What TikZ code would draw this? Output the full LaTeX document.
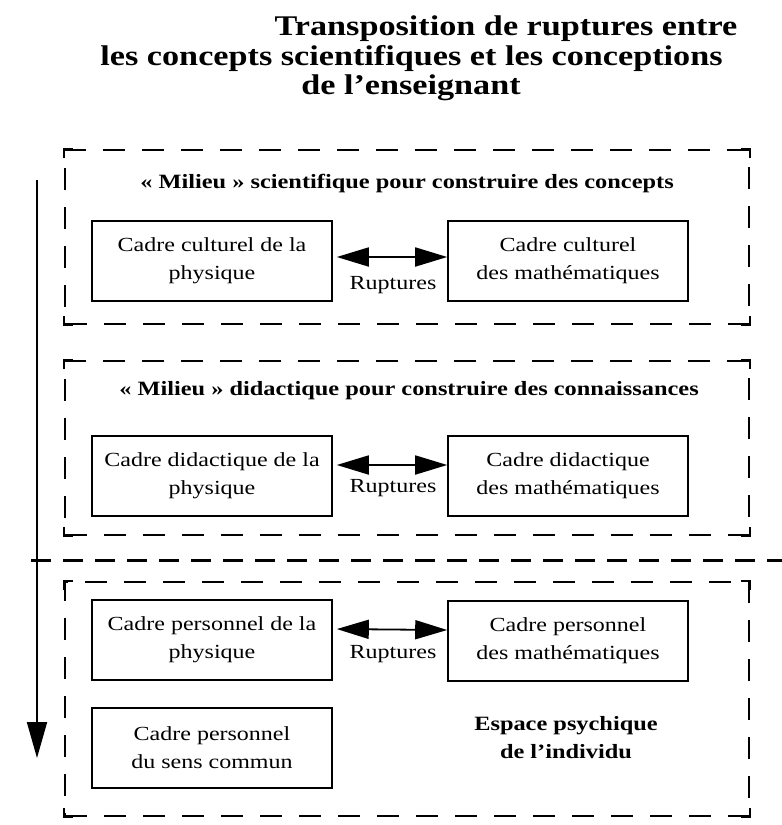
\documentclass[tikz,border=0pt]{standalone}
\usepackage{fontspec}
\setmainfont[FakeStretch=1.2]{Liberation Serif}
\usetikzlibrary{arrows.meta}
\begin{document}
\begin{tikzpicture}[x=1pt,y=-1pt,
  cadre/.style={draw, line width=1.6pt, minimum width=240pt, minimum height=80pt, align=center, inner sep=0pt, font=\fontsize{20}{28}\selectfont},
  milieu/.style={draw, line width=1.8pt, dash pattern=on 22pt off 17pt, inner sep=0pt},
  coin/.style={line width=1.8pt},
  entete/.style={anchor=base, font=\bfseries\fontsize{20.3}{24}\selectfont},
  titre/.style={anchor=base, font=\bfseries\fontsize{28.5}{30}\selectfont},
  rupt/.style={line width=1.8pt, {Triangle[length=32pt,width=19pt]}-{Triangle[length=32pt,width=19pt]}, shorten <=4pt},
  lbl/.style={font=\fontsize{20}{24}\selectfont},
  fleche/.style={line width=1.8pt, -{Triangle[length=36pt,width=20pt]}},
  coupure/.style={line width=3pt, dash pattern=on 20pt off 12pt},
]
\useasboundingbox (0,0) rectangle (782,825);

% title
\node[titre] (t1) at (506,35) {Transposition de ruptures entre};
\node[titre] (t2) at (411.5,65) {les concepts scientifiques et les conceptions};
\node[titre] (t3) at (411,94) {de l’enseignant};

% dashed frames
\node[milieu, minimum width=684pt, minimum height=174pt] (m1) at (407,237) {};
\node[milieu, minimum width=684pt, minimum height=174pt] (m2) at (407,448) {};
\node[milieu, minimum width=684pt, minimum height=234pt] (m3) at (407,699) {};
\foreach \m in {m1,m2,m3}{
  \draw[coin] ([yshift=-9pt]\m.north west) -- (\m.north west) -- ([xshift=9pt]\m.north west);
  \draw[coin] ([yshift=-9pt]\m.north east) -- (\m.north east) -- ([xshift=-9pt]\m.north east);
  \draw[coin] ([yshift=9pt]\m.south west) -- (\m.south west) -- ([xshift=9pt]\m.south west);
  \draw[coin] ([yshift=9pt]\m.south east) -- (\m.south east) -- ([xshift=-9pt]\m.south east);
}

% headers
\node[entete] (h1) at (407,188) {« Milieu » scientifique pour construire des concepts};
\node[entete] (h2) at (409,395) {« Milieu » didactique pour construire des connaissances};

% boxes
\node[cadre] (a1) at (212,261) {Cadre culturel de la\\physique};
\node[cadre] (b1) at (568,261) {Cadre culturel\\des mathématiques};
\node[cadre] (a2) at (212,476) {Cadre didactique de la\\physique};
\node[cadre] (b2) at (568,476) {Cadre didactique\\des mathématiques};
\node[cadre] (a3) at (212,640) {Cadre personnel de la\\physique};
\node[cadre] (b3) at (568,641) {Cadre personnel\\des mathématiques};
\node[cadre] (a4) at (212,748) {Cadre personnel\\du sens commun};

% ruptures
\draw[rupt] ([yshift=4pt]a1.east) -- ([yshift=4pt]b1.west);
\draw[rupt] ([yshift=11pt]a2.east) -- ([yshift=11pt]b2.west);
\draw[rupt] ([yshift=11pt]a3.east) -- ([yshift=11pt]b3.west);
\node[lbl] (r1) at (393,285) {Ruptures};
\node[lbl] (r2) at (393,488) {Ruptures};
\node[lbl] (r3) at (393,654) {Ruptures};

% espace psychique
\node[align=center, font=\bfseries\fontsize{20.3}{28}\selectfont] (esp) at (566,738) {Espace psychique\\de l’individu};

% vertical arrow and cut line
\coordinate (vtop) at (37,180);
\coordinate (vbot) at (37,758);
\draw[fleche] (vtop) -- (vbot);
\coordinate (sl) at (31,560);
\coordinate (sr) at (782,560);
\draw[coupure] (sl) -- (sr);
\end{tikzpicture}
\end{document}
